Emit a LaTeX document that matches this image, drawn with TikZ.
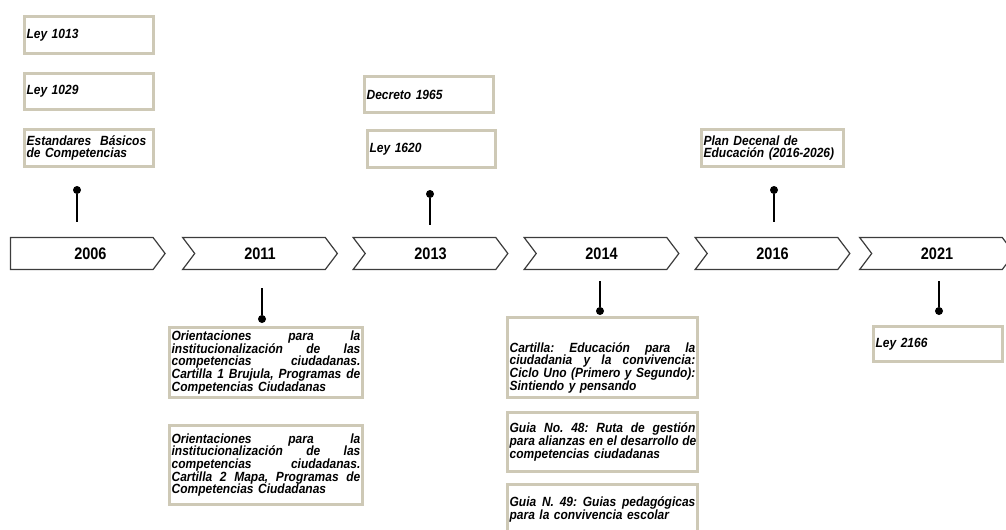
\documentclass[tikz,border=0pt]{standalone}
\usepackage{fontspec}
\setmainfont{Liberation Sans}
\newfontfamily\yearfont[FakeStretch=0.87]{Liberation Sans}
\newfontfamily\docfont[FakeStretch=0.9]{Liberation Sans}
\usetikzlibrary{positioning,shapes.symbols}
\definecolor{tlframe}{RGB}{206,201,182}
\definecolor{tledge}{RGB}{60,60,60}
\newcommand{\jl}[1]{\makebox[\hsize][s]{\spaceskip=0.28em plus 1fil\relax #1}\\}
\tikzset{
  yr/.style={
    shape=signal, signal to=east, signal from=west, signal pointer angle=106,
    draw=tledge, line width=0.9pt, fill=white, inner sep=0pt,
    minimum width=116pt, minimum height=24pt,
    font=\yearfont\bfseries\fontsize{12.5pt}{14pt}\selectfont
  },
  yrhead/.style={yr, signal from=nowhere},
  doc/.style={
    draw=tlframe, line width=2.2pt, fill=white, align=left,
    inner xsep=1.6pt, inner ysep=1pt,
    font=\docfont\bfseries\itshape\fontsize{10pt}{9.5pt}\selectfont\frenchspacing
  },
  knob/.style={circle, fill=black, inner sep=0pt, minimum size=6pt},
  stem/.style={draw=black, line width=1.7pt}
}
\begin{document}
\begin{tikzpicture}[x=0.75pt,y=-0.75pt,node distance=12.75pt]
  \useasboundingbox (0,0) rectangle (1006,529);
  \clip (0,0) rectangle (1006,529);

  \node[yrhead] (y06) at (81.75,253.5) {\hspace*{13pt}2006};
  \node[yr] (y11) at (260,253.5) {2011};
  \node[yr] (y13) at (430.5,253.5) {2013};
  \node[yr] (y14) at (601.5,253.5) {2014};
  \node[yr] (y16) at (772.5,253.5) {2016};
  \node[yr] (y21) at (937,253.5) {2021};

  \node[doc, text width=93.55pt, minimum height=27.75pt] (l1013) at (89,35) {Ley 1013};
  \node[doc, text width=93.55pt, minimum height=27pt, below=of l1013] (l1029) {Ley 1029};
  \node[doc, text width=93.55pt, minimum height=27.75pt, below=of l1029] (estb)
    {Estandares\ \ Básicos\\de Competencias};
  \node[knob] (k06) at (77,190) {};
  \coordinate (s06) at (77,222);
  \draw[stem] (k06) -- (s06);

  \coordinate (s11) at (262,288);
  \node[knob] (k11) at (262,319) {};
  \draw[stem] (s11) -- (k11);
  \node[doc, text width=141.55pt, minimum height=52.5pt] (ori1) at (266,362.5)
    {\jl{Orientaciones para la}\jl{institucionalización de las}\jl{competencias ciudadanas.}\jl{Cartilla 1 Brujula, Programas de}Competencias Ciudadanas};
  \node[doc, text width=141.55pt, minimum height=59.25pt, below=18.75pt of ori1] (ori2)
    {\jl{Orientaciones para la}\jl{institucionalización de las}\jl{competencias ciudadanas.}\jl{Cartilla 2 Mapa, Programas de}Competencias Ciudadanas};

  \node[doc, text width=93.55pt, minimum height=27pt] (dec1965) at (429,94.5) {Decreto 1965};
  \node[doc, text width=92.8pt, minimum height=27.75pt] (l1620) at (431.5,149) {Ley 1620};
  \node[knob] (k13) at (430,194) {};
  \coordinate (s13) at (430,225);
  \draw[stem] (k13) -- (s13);

  \coordinate (s14) at (600,281);
  \node[knob] (k14) at (600,311) {};
  \draw[stem] (s14) -- (k14);
  \node[doc, text width=139.3pt, minimum height=60pt] (cart) at (602.5,357.5)
    {\mbox{}\\[13pt]\jl{Cartilla: Educación para la}\jl{ciudadania y la convivencia:}\mbox{Ciclo Uno (Primero y Segundo):}\\Sintiendo y pensando};
  \node[doc, text width=139.3pt, minimum height=44.25pt, below=9pt of cart] (guia48)
    {\jl{Guia No. 48: Ruta de gestión}\jl{para alianzas en el desarrollo de}competencias ciudadanas};
  \node[doc, text width=139.3pt, minimum height=37.5pt, below=7.5pt of guia48] (guia49)
    {\jl{Guia N. 49: Guias pedagógicas}para la convivencia escolar};

  \node[doc, text width=103.3pt, minimum height=27.75pt] (plan) at (772.5,148)
    {Plan Decenal de\\Educación (2016-2026)};
  \node[knob] (k16) at (774,190) {};
  \coordinate (s16) at (774,222);
  \draw[stem] (k16) -- (s16);

  \coordinate (s21) at (939,281);
  \node[knob] (k21) at (939,311) {};
  \draw[stem] (s21) -- (k21);
  \node[doc, text width=93.55pt, minimum height=26.25pt] (l2166) at (938,344) {Ley 2166};
\end{tikzpicture}
\end{document}
